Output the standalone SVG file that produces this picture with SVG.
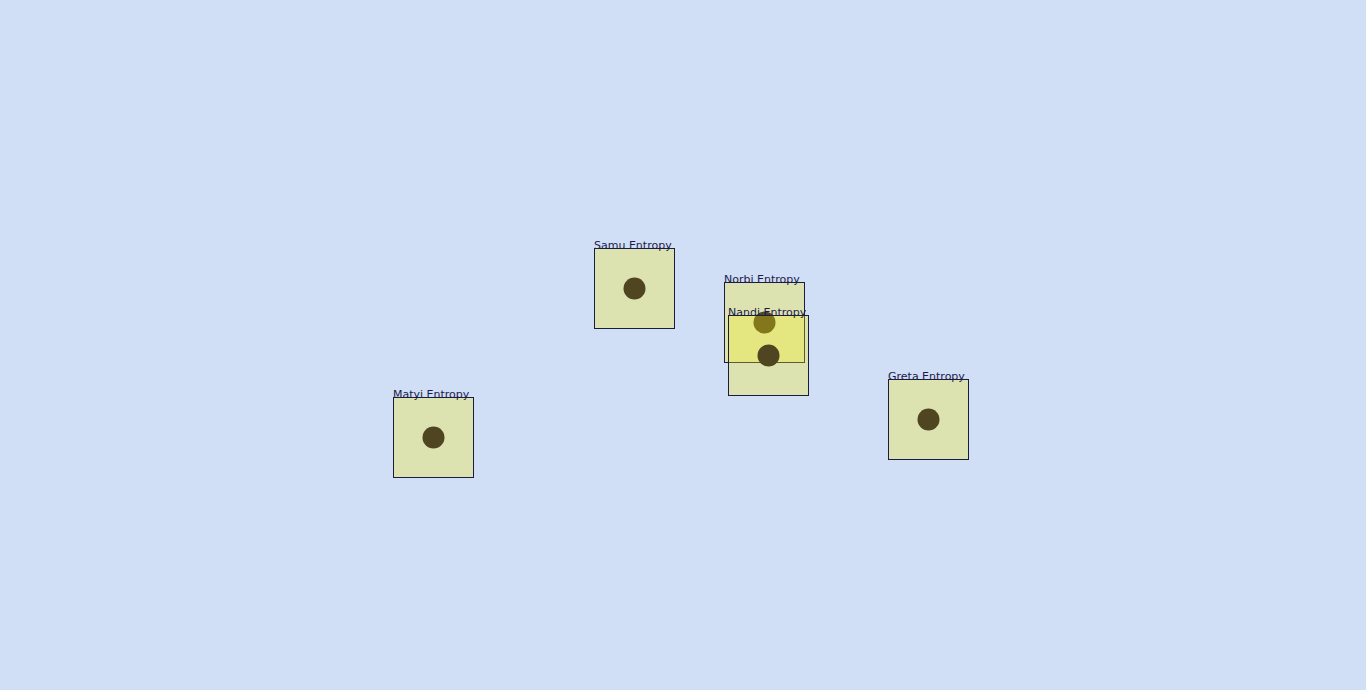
<svg xmlns="http://www.w3.org/2000/svg" width="1366" height="690" viewBox="0 0 1366 690">
<style>
.box{fill:rgb(250,240,15);fill-opacity:0.3;stroke:#1c1c3c;stroke-width:1}
.dot{fill:#4f4520}
.lbl{font-family:"DejaVu Sans",sans-serif;font-size:11px;fill:#1c1c4a}
</style>
<rect x="0" y="0" width="1366" height="690" fill="#d0def6"/>
<g id="connectors"></g>
<g id="samu">
<rect class="box" x="594.5" y="248.5" width="80" height="80"/>
<circle class="dot" cx="634.5" cy="288.5" r="11"/>
<text class="lbl" x="594" y="249">Samu Entropy</text>
</g>
<g id="matyi">
<rect class="box" x="393.5" y="397.5" width="80" height="80"/>
<circle class="dot" cx="433.5" cy="437.5" r="11"/>
<text class="lbl" x="393" y="398">Matyi Entropy</text>
</g>
<g id="greta">
<rect class="box" x="888.5" y="379.5" width="80" height="80"/>
<circle class="dot" cx="928.5" cy="419.5" r="11"/>
<text class="lbl" x="888" y="380">Greta Entropy</text>
</g>
<g id="norbi">
<rect class="box" x="724.5" y="282.5" width="80" height="80"/>
<circle class="dot" cx="764.5" cy="322.5" r="11"/>
<text class="lbl" x="724" y="283">Norbi Entropy</text>
</g>
<g id="nandi">
<rect class="box" x="728.5" y="315.5" width="80" height="80"/>
<circle class="dot" cx="768.5" cy="355.5" r="11"/>
<text class="lbl" x="728" y="316">Nandi Entropy</text>
</g>
</svg>
